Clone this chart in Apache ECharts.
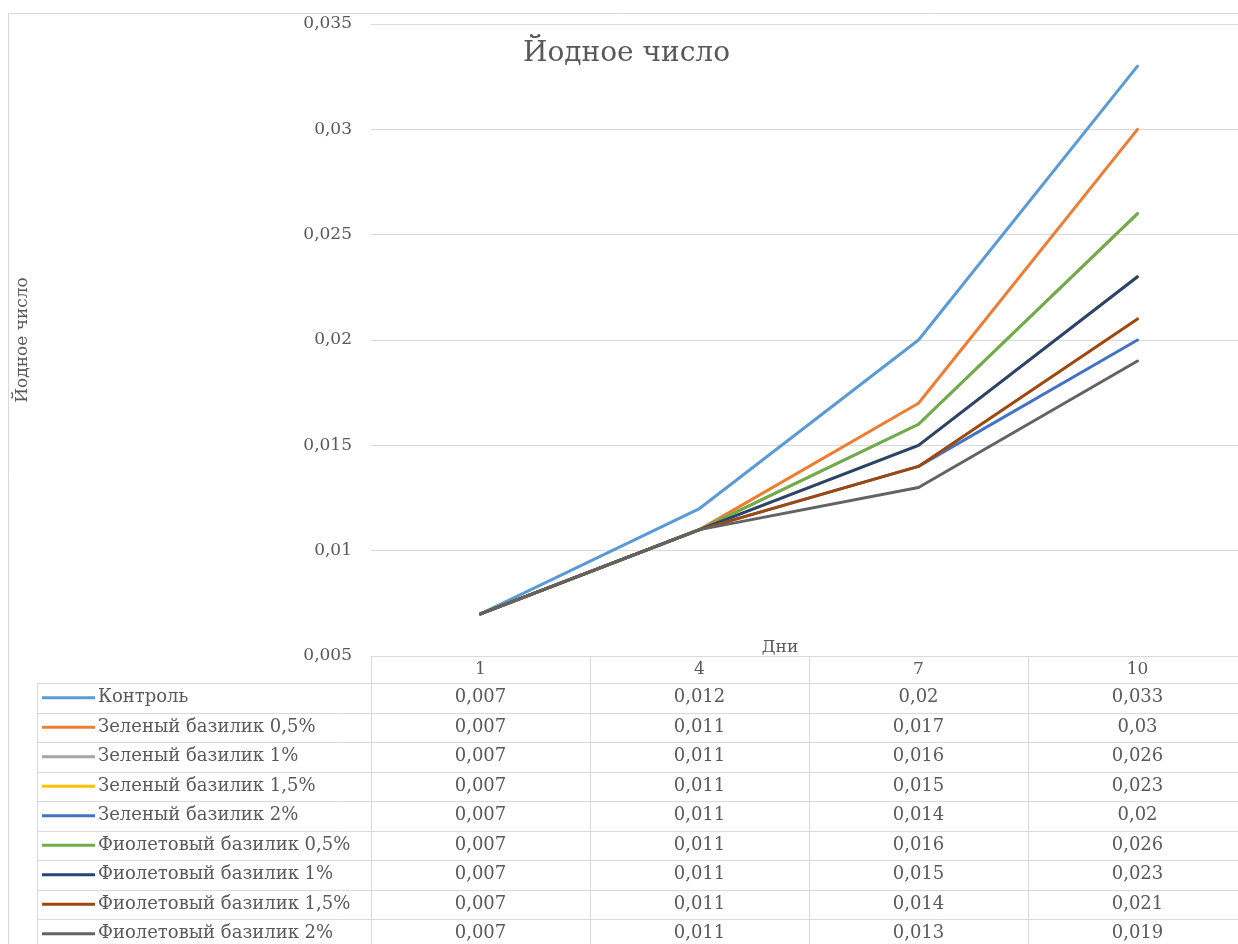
<!DOCTYPE html>
<html>
<head>
<meta charset="utf-8">
<script src="https://cdn.jsdelivr.net/npm/echarts@6/dist/echarts.min.js"></script>
<style>
  html, body { margin: 0; padding: 0; background: #ffffff; }
  #chart { width: 1238px; height: 944px; }
</style>
</head>
<body>
<div id="chart"></div>
<script>
// Дни хранения
const days = ['1', '4', '7', '10'];

// Названия образцов
const sampleNames = [
  'Контроль',
  'Зеленый базилик 0,5%',
  'Зеленый базилик 1%',
  'Зеленый базилик 1,5%',
  'Зеленый базилик 2%',
  'Фиолетовый базилик 0,5%',
  'Фиолетовый базилик 1%',
  'Фиолетовый базилик 1,5%',
  'Фиолетовый базилик 2%'
];

// Йодное число по дням
const kontrol      = [0.007, 0.012, 0.02,  0.033];
const green05      = [0.007, 0.011, 0.017, 0.03];
const green1       = [0.007, 0.011, 0.016, 0.026];
const green15      = [0.007, 0.011, 0.015, 0.023];
const green2       = [0.007, 0.011, 0.014, 0.02];
const violet05     = [0.007, 0.011, 0.016, 0.026];
const violet1      = [0.007, 0.011, 0.015, 0.023];
const violet15     = [0.007, 0.011, 0.014, 0.021];
const violet2      = [0.007, 0.011, 0.013, 0.019];

const sampleValues = [kontrol, green05, green1, green15, green2, violet05, violet1, violet15, violet2];

const palette = ['#5B9BD5', '#ED7D31', '#A5A5A5', '#FFC000', '#4472C4',
                 '#70AD47', '#264478', '#9E480E', '#636363'];

// Деления оси значений
const yMin = 0.005, yMax = 0.035, yStep = 0.005;

const FONT = 'DejaVu Serif';
const TEXT = '#595959';
const RULE = '#d9d9d9';

const fmt = v => String(+(+v).toFixed(3)).replace('.', ',');

const chart = echarts.init(document.getElementById('chart'), null, { renderer: 'canvas' });

const option = {
  backgroundColor: '#ffffff',
  animation: false,
  color: palette,
  title: {
    text: 'Йодное число',
    left: 518,
    top: 35,
    textStyle: { fontFamily: FONT, fontSize: 28, fontWeight: 'normal', color: TEXT }
  },
  grid: { left: 371, width: 876, top: 24, bottom: 288, containLabel: false, outerBoundsMode: 'none' },
  xAxis: {
    type: 'category',
    data: days,
    boundaryGap: true,
    name: 'Дни',
    nameLocation: 'middle',
    nameGap: -17,
    nameMoveOverlap: false,
    nameTextStyle: { fontFamily: FONT, fontSize: 17, color: TEXT, padding: [0, 58, 0, 0] },
    axisLine: { show: true, lineStyle: { color: RULE, width: 1 } },
    axisTick: { show: true, interval: 0, length: 290, lineStyle: { color: RULE, width: 1 } },
    axisLabel: { interval: 0, margin: 5, fontFamily: FONT, fontSize: 17, color: TEXT },
    splitLine: { show: false }
  },
  yAxis: {
    type: 'value',
    min: yMin,
    max: yMax,
    interval: yStep,
    name: 'Йодное число',
    nameLocation: 'middle',
    nameGap: 340,
    nameRotate: 90,
    nameTextStyle: { fontFamily: FONT, fontSize: 17, color: TEXT },
    axisLine: { show: false },
    axisTick: { show: false },
    axisLabel: { margin: 19, fontFamily: FONT, fontSize: 17, color: TEXT, formatter: fmt },
    splitLine: { show: true, lineStyle: { color: RULE, width: 1 } }
  },
  series: sampleNames.map((name, i) => ({
    name: name,
    type: 'line',
    data: sampleValues[i],
    symbol: 'none',
    lineStyle: { width: 3, color: palette[i], cap: 'round', join: 'round' },
    itemStyle: { color: palette[i] }
  }))
};

chart.setOption(option);

// Таблица данных под графиком
const tableTop = 683;
const rowH = 29.5;
const tableLeft = 37;
const keyX0 = 42, keyX1 = 95, nameX = 98;
const cellFont = '18px "' + FONT + '"';
const elements = [];

// внешняя рамка области диаграммы
elements.push({
  type: 'rect', silent: true,
  shape: { x: 8.5, y: 13.5, width: 1400, height: 1100 },
  style: { fill: null, stroke: RULE, lineWidth: 1 }
});
// левая граница таблицы
elements.push({
  type: 'line', silent: true,
  shape: { x1: tableLeft + 0.5, y1: tableTop, x2: tableLeft + 0.5, y2: 944 },
  style: { stroke: RULE, lineWidth: 1 }
});

const colX = days.map((d, j) => chart.convertToPixel({ xAxisIndex: 0 }, j));

sampleNames.forEach((name, i) => {
  const y0 = Math.round(tableTop + i * rowH) + 0.5;
  const yc = tableTop + i * rowH + rowH / 2;
  elements.push({
    type: 'line', silent: true,
    shape: { x1: tableLeft, y1: y0, x2: 1300, y2: y0 },
    style: { stroke: RULE, lineWidth: 1 }
  });
  elements.push({
    type: 'line', silent: true,
    shape: { x1: keyX0, y1: yc, x2: keyX1, y2: yc },
    style: { stroke: palette[i], lineWidth: 3 }
  });
  elements.push({
    type: 'text', silent: true,
    style: { x: nameX, y: yc, text: name, fill: TEXT, font: cellFont,
             textAlign: 'left', textVerticalAlign: 'middle' }
  });
  sampleValues[i].forEach((v, j) => {
    elements.push({
      type: 'text', silent: true,
      style: { x: colX[j], y: yc, text: fmt(v), fill: TEXT, font: cellFont,
               textAlign: 'center', textVerticalAlign: 'middle' }
    });
  });
});

chart.setOption({ graphic: { elements: elements } });
</script>
</body>
</html>
